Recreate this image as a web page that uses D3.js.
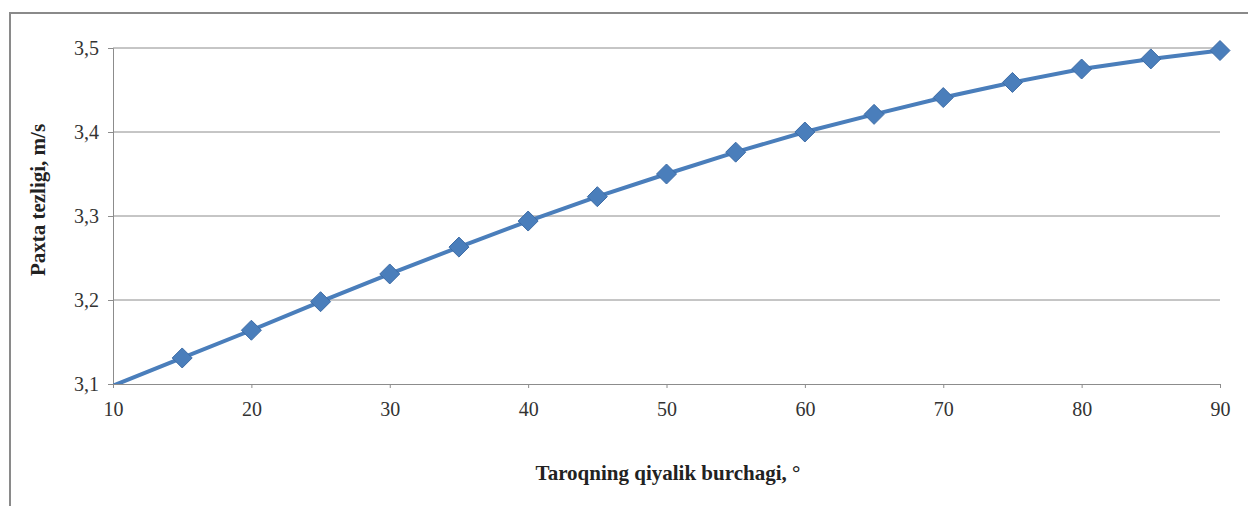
<!DOCTYPE html>
<html>
<head>
<meta charset="utf-8">
<script src="https://cdn.jsdelivr.net/npm/d3@7"></script>
<style>
  html, body { margin: 0; padding: 0; background: #fff; }
  svg { display: block; }
</style>
</head>
<body>
<script>
// Cotton velocity against comb inclination angle
const angles = [10, 15, 20, 25, 30, 35, 40, 45, 50, 55, 60, 65, 70, 75, 80, 85, 90];
const speeds = [3.098, 3.131, 3.164, 3.198, 3.231, 3.263, 3.294, 3.323, 3.350, 3.376, 3.400, 3.421, 3.441, 3.459, 3.475, 3.487, 3.497];
const xTicks = [10, 20, 30, 40, 50, 60, 70, 80, 90];
const yTicks = [3.1, 3.2, 3.3, 3.4, 3.5];
const xTitle = "Taroqning qiyalik burchagi, °";
const yTitle = "Paxta tezligi, m/s";

const W = 1248, H = 506;
const plot = { left: 113, right: 1220, top: 48, bottom: 384 };
const serif = "'Liberation Serif', 'Times New Roman', serif";

const svg = d3.select("body").append("svg").attr("width", W).attr("height", H);
svg.append("rect").attr("width", W).attr("height", H).attr("fill", "#fff");

// chart frame (runs past the right and bottom edges)
svg.append("rect")
  .attr("x", 10).attr("y", 13).attr("width", 1260).attr("height", 520)
  .attr("fill", "none").attr("stroke", "#8a8a8a").attr("stroke-width", 2);

const x = d3.scaleLinear().domain([10, 90]).range([plot.left, plot.right]);
const y = d3.scaleLinear().domain([3.1, 3.5]).range([plot.bottom, plot.top]);
const fmt = v => d3.format(".1f")(v).replace(".", ",");

// horizontal gridlines
svg.append("g")
  .selectAll("line").data(yTicks.filter(v => v > 3.1)).join("line")
  .attr("x1", plot.left).attr("x2", plot.right)
  .attr("y1", d => y(d)).attr("y2", d => y(d))
  .attr("stroke", "#8c8c8c").attr("stroke-width", 1);

// y axis
const yAxis = svg.append("g").attr("transform", `translate(${plot.left},0)`)
  .call(d3.axisLeft(y).tickValues(yTicks).tickFormat(fmt).tickSize(5).tickPadding(9));
yAxis.select(".domain").attr("stroke", "#8c8c8c");
yAxis.selectAll(".tick line").attr("stroke", "#8c8c8c");
yAxis.selectAll("text")
  .attr("font-family", serif).attr("font-size", 20).attr("fill", "#333");

// x axis
const xAxis = svg.append("g").attr("transform", `translate(0,${plot.bottom})`)
  .call(d3.axisBottom(x).tickValues(xTicks).tickFormat(d3.format("d")).tickSize(4).tickPadding(14));
xAxis.select(".domain").attr("stroke", "#8c8c8c");
xAxis.selectAll(".tick line").attr("stroke", "#8c8c8c");
xAxis.selectAll("text")
  .attr("font-family", serif).attr("font-size", 20).attr("fill", "#333");

// series line, clipped to the plot area
svg.append("clipPath").attr("id", "plotClip")
  .append("rect").attr("x", plot.left).attr("y", plot.top - 20)
  .attr("width", plot.right - plot.left + 20).attr("height", plot.bottom - plot.top + 20);

const pts = angles.map((a, i) => ({ a, v: speeds[i] }));
svg.append("path")
  .datum(pts)
  .attr("clip-path", "url(#plotClip)")
  .attr("fill", "none").attr("stroke", "#4a7ebb").attr("stroke-width", 4)
  .attr("stroke-linejoin", "round")
  .attr("d", d3.line().x(d => x(d.a)).y(d => y(d.v)));

// diamond markers for points inside the axis range
svg.append("g").selectAll("path")
  .data(pts.filter(d => d.v >= 3.1 && d.v <= 3.5)).join("path")
  .attr("transform", d => `translate(${x(d.a)},${y(d.v)})`)
  .attr("d", "M0,-10L10,0L0,10L-10,0Z")
  .attr("fill", "#4a7ebb").attr("stroke", "#3d6ca6").attr("stroke-width", 1);

// axis titles
svg.append("text")
  .attr("transform", `translate(45,200) rotate(-90)`)
  .attr("text-anchor", "middle")
  .attr("font-family", serif)
  .attr("font-weight", "bold").attr("font-size", 21).attr("fill", "#222")
  .text(yTitle);

svg.append("text")
  .attr("x", 668).attr("y", 480)
  .attr("text-anchor", "middle")
  .attr("font-family", serif)
  .attr("font-weight", "bold").attr("font-size", 21).attr("fill", "#222")
  .text(xTitle);
</script>
</body>
</html>
